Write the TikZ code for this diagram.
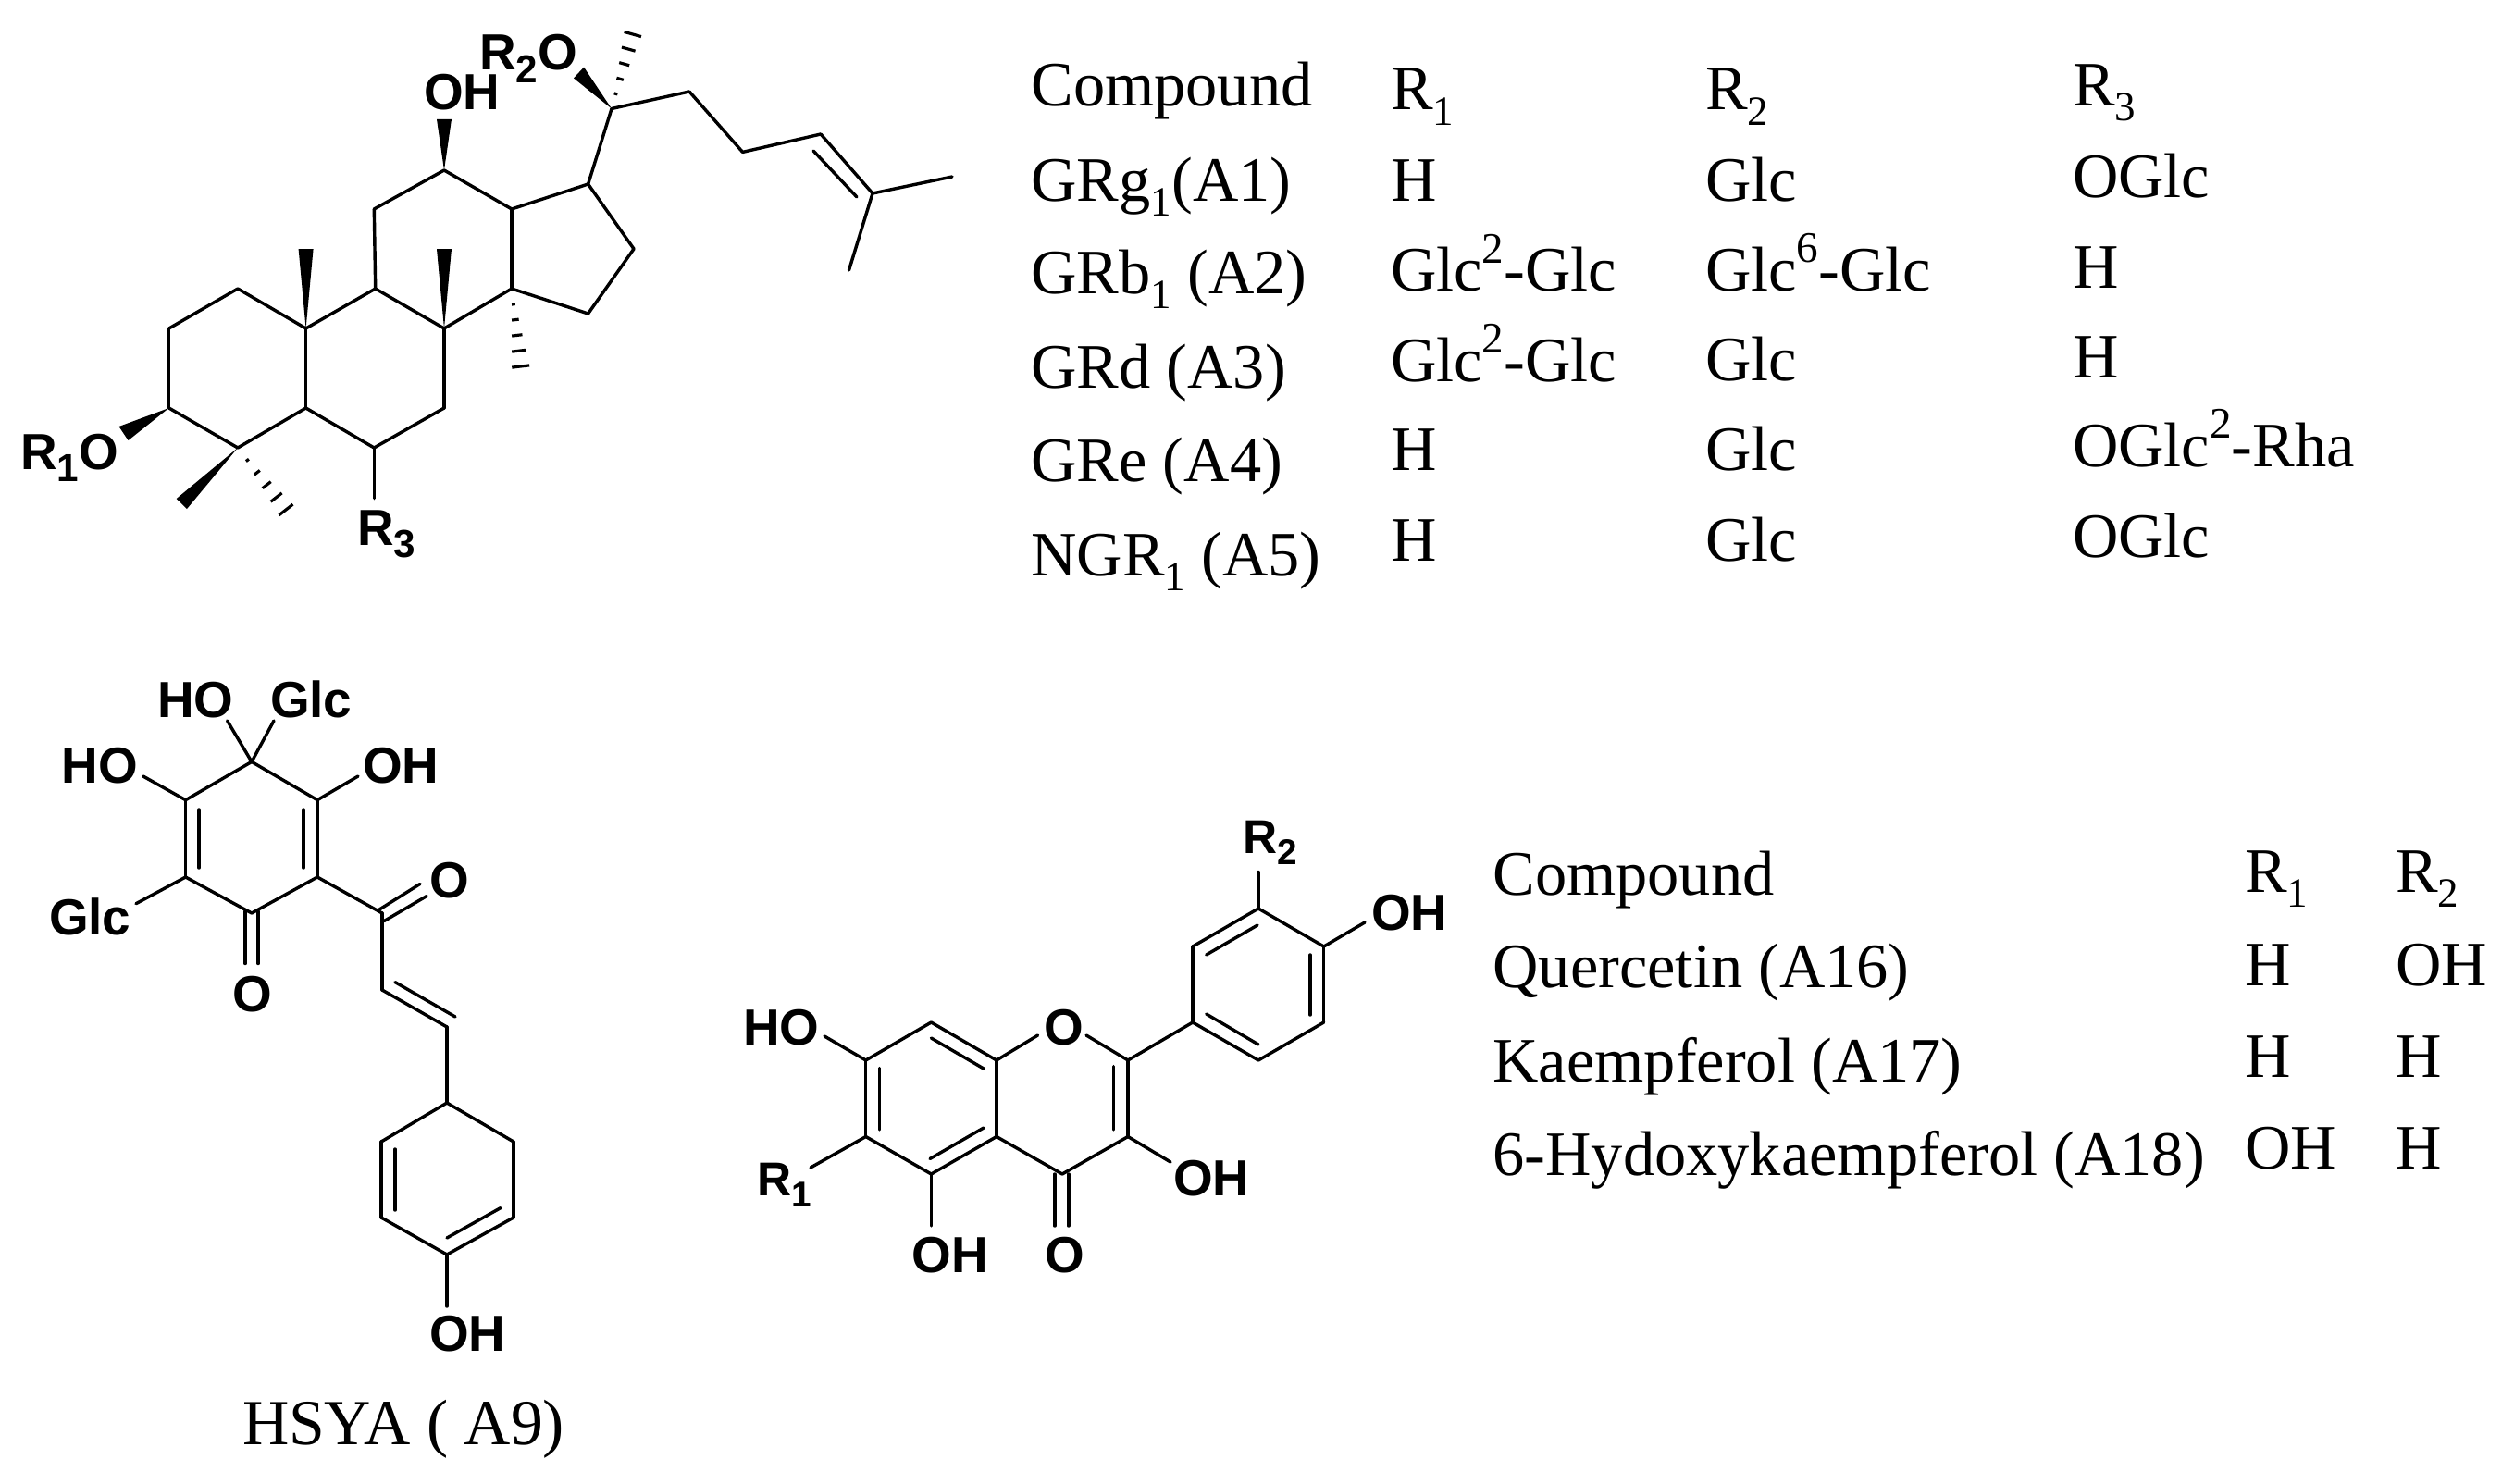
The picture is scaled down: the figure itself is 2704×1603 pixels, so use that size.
\documentclass[tikz,border=0pt]{standalone}
\usepackage{fontspec}
\setmainfont{Liberation Serif}
\setsansfont{Liberation Sans}
\usetikzlibrary{calc}
\tikzset{
  bond/.style={line width=0.97pt,line cap=round,line join=round,black},
  wedgebond/.style={fill=black,draw=none},
  hashtick/.style={line width=0.9pt,black},
  tabtext/.style={anchor=base west,inner sep=0pt,outer sep=0pt,font=\fontsize{19.45}{23}\selectfont},
  captiontext/.style={anchor=base west,inner sep=0pt,outer sep=0pt,font=\fontsize{19.8}{23}\selectfont},
  chemlabel/.style={anchor=base west,inner sep=0pt,outer sep=0pt,font=\fontsize{15.6}{19}\selectfont\sffamily\bfseries},
  chemR/.style={anchor=base west,inner sep=0pt,outer sep=0pt,font=\fontsize{14.6}{18}\selectfont\sffamily\bfseries},
}
% subscript / superscript for table text
\newcommand{\tsub}[1]{\raisebox{-4.6pt}{\fontsize{12.8}{14}\selectfont #1}}
\newcommand{\tsup}[1]{\raisebox{8.6pt}{\fontsize{13.4}{15}\selectfont #1}}
% subscript for structure labels
\newcommand{\csub}[1]{\raisebox{-3.5pt}{\fontsize{11}{13}\selectfont #1}}
\newcommand{\dsub}[1]{\raisebox{-3.7pt}{\fontsize{12}{14}\selectfont #1}}
% bonds
\newcommand{\bonds}[1]{\foreach \p/\q in {#1} \draw[bond] (\p) -- (\q);}
\newcommand{\atoms}[1]{\foreach \n/\x/\y in {#1} \coordinate (\n) at (\x,\y);}
% hashed bond: from, to, ticks, half width at far end in pt
\newcommand{\hashed}[4]{%
  \foreach \i in {1,...,#3} {%
    \pgfmathsetmacro\tt{\i/#3}%
    \pgfmathsetmacro\ww{#4*\tt}%
    \draw[hashtick] ($(#1)!\tt!(#2)!\ww pt!90:(#1)$) -- ($(#1)!\tt!(#2)!\ww pt!-90:(#1)$);
  }}
\begin{document}
\begin{tikzpicture}[x=0.01cm,y=-0.01cm]
\useasboundingbox (0,0) rectangle (2704,1603);
\fill[white] (0,0) rectangle (2704,1603);

%% ---------- ginsenoside skeleton ----------
\atoms{a/182.6/441,b/182.6/355,c/257/312,d/330.6/355,e/330.6/441,f/257/484,
 g/405.7/312,h/480/355,i/480/441,j/404.3/484,k/553/312,l/553/226,m/480/184,n/404.3/226,
 o/635.6/199,p/685/269,q/635.6/339,r/661/117.5,s/745/99,t/802.6/164.4,u/887/145,
 v/943/209,w/1029/191,x/917.5/292,ui/879/163,vi/926/213,rth/404.3/538.6}
\bonds{a/b,b/c,c/d,d/e,e/f,f/a,d/g,g/h,h/i,i/j,j/e,g/n,n/m,m/l,l/k,k/h,l/o,o/p,p/q,q/k,
 o/r,r/s,s/t,t/u,u/v,v/w,v/x,ui/vi,j/rth}
% wedges
\atoms{w1a/472/129,w1b/488/129,w2a/322.6/269,w2b/338.6/269,w3a/472/269,w3b/488/269,
 w4a/128.5/461,w4b/138.6/476,w5a/190.7/539,w5b/202/550,w6a/620/84.5,w6b/631/72.6}
\fill[wedgebond] (m) -- (w1a) -- (w1b) -- cycle;
\fill[wedgebond] (d) -- (w2a) -- (w2b) -- cycle;
\fill[wedgebond] (h) -- (w3a) -- (w3b) -- cycle;
\fill[wedgebond] (a) -- (w4a) -- (w4b) -- cycle;
\fill[wedgebond] (f) -- (w5a) -- (w5b) -- cycle;
\fill[wedgebond] (r) -- (w6a) -- (w6b) -- cycle;
% hashes
\atoms{h1/683.8/37,h2/562.7/396,h3/309/551}
\hashed{r}{h1}{5}{2.7}
\hashed{k}{h2}{5}{2.7}
\hashed{f}{h3}{5}{2.7}
% labels
\node[chemlabel] (oh1) at (458,119) {OH};
\node[chemlabel] (r2o) at (518,76) {R\dsub{2}O};
\node[chemlabel] (r1o) at (22,507) {R\dsub{1}O};
\node[chemlabel] (r3l) at (386,589) {R\dsub{3}};

%% ---------- top table ----------
\node[tabtext] (t11) at (1114.5,114.4) {Compound};
\node[tabtext] (t21) at (1114.5,217) {GRg\tsub{1}(A1)};
\node[tabtext] (t31) at (1114.5,317.5) {GRb\tsub{1} (A2)};
\node[tabtext] (t41) at (1114.5,419) {GRd (A3)};
\node[tabtext] (t51) at (1114.5,520) {GRe (A4)};
\node[tabtext] (t61) at (1114.5,622) {NGR\tsub{1} (A5)};
\node[tabtext] (t12) at (1503,119) {R\tsub{1}};
\node[tabtext] (t22) at (1503,217) {H};
\node[tabtext] (t32) at (1503,314.6) {Glc\tsup{2}-Glc};
\node[tabtext] (t42) at (1503,412) {Glc\tsup{2}-Glc};
\node[tabtext] (t52) at (1503,508) {H};
\node[tabtext] (t62) at (1503,606) {H};
\node[tabtext] (t13) at (1843,119) {R\tsub{2}};
\node[tabtext] (t23) at (1843,217) {Glc};
\node[tabtext] (t33) at (1843,314) {Glc\tsup{6}-Glc};
\node[tabtext] (t43) at (1843,411) {Glc};
\node[tabtext] (t53) at (1843,508) {Glc};
\node[tabtext] (t63) at (1843,606) {Glc};
\node[tabtext] (t14) at (2240,114.4) {R\tsub{3}};
\node[tabtext] (t24) at (2240,213) {OGlc};
\node[tabtext] (t34) at (2240,311) {H};
\node[tabtext] (t44) at (2240,408) {H};
\node[tabtext] (t54) at (2240,504) {OGlc\tsup{2}-Rha};
\node[tabtext] (t64) at (2240,602) {OGlc};

%% ---------- HSYA ----------
\atoms{ta/272/823.4,tb/343/864.7,tc/343/948,td/272/987,te/200.6/948,tf/200.6/864.7,
 tbi/328/875,tci/328/938,tfi/215/875,tei/215/938,
 tho/245.6/779,tgl/296/779,tlho/154.7/839,troh/387/839,tlgl/147/976.7,
 co1a/265/985,co1b/279/985,co1c/265/1041.5,co1d/279/1041.5,
 ka/413/987,kb/413/1070,kc/483/1110,kd/483/1192,
 cota/408.5/984,cotb/454/955.4,cotc/415/995.6,cotd/461/968.6,
 kbi/427/1061.6,kci/492/1099,
 pa/555/1234,pb/555/1316,pc/483/1356,pd/412/1316,pe/412/1234,
 pei/427/1242,pdi/427/1308,pci/483/1338,pbi/541/1305.6,poh/483/1412}
\bonds{ta/tb,tb/tc,tc/td,td/te,te/tf,tf/ta,tbi/tci,tfi/tei,ta/tho,ta/tgl,tf/tlho,tb/troh,te/tlgl,
 co1a/co1c,co1b/co1d,tc/ka,cota/cotb,cotc/cotd,ka/kb,kb/kc,kbi/kci,kc/kd,
 kd/pa,pa/pb,pb/pc,pc/pd,pd/pe,pe/kd,pei/pdi,pci/pbi,pc/poh}
\node[chemlabel] (ho1) at (170,775) {HO};
\node[chemlabel] (gl1) at (292,775) {Glc};
\node[chemlabel] (ho2) at (67,846) {HO};
\node[chemlabel] (oh2) at (392,846) {OH};
\node[chemlabel] (gl2) at (53,1010) {Glc};
\node[chemlabel] (ox1) at (464,970) {O};
\node[chemlabel] (ox2) at (251.5,1093) {O};
\node[chemlabel] (oh3) at (464,1460) {OH};
\node[captiontext] (hsya) at (262,1561) {HSYA ( A9)};

%% ---------- flavonol ----------
\atoms{a1/935.7/1146,a2/1006.4/1105,a3/1077/1146,a4/1077/1228.5,a5/1006.4/1269,a6/935.7/1228.5,
 oa/1121.6/1119,ob/1174/1119,a7/1219/1146,a8/1219/1228.5,a9/1148/1269,
 a2i/1006.4/1122,a3i/1063/1155,a1i/950.7/1154.5,a6i/950.7/1221,a4i/1063/1219,a5i/1005/1252.5,
 a7i/1203.6/1152.6,a8i/1203.6/1221,
 cfa/1139.8/1269,cfb/1154.8/1269,cfc/1139.8/1325,cfd/1154.8/1325,
 oh3e/1265/1256,oh5e/1006.4/1325,oh7e/891/1120,r1e/876/1262,
 b1/1289/1105,b2/1289/1023,b3/1360/982,b4/1430.7/1023,b5/1430.7/1105,b6/1360/1146,
 b2i/1303.7/1032,b3i/1359/1000,b4i/1416/1032,b5i/1416/1097,b1i/1303.7/1096,b6i/1360/1129,
 r2e/1360/942.5,ohbe/1475/997}
\bonds{a1/a2,a2/a3,a3/a4,a4/a5,a5/a6,a6/a1,a3/oa,ob/a7,a7/a8,a8/a9,a9/a4,
 a2i/a3i,a1i/a6i,a4i/a5i,a7i/a8i,cfa/cfc,cfb/cfd,a8/oh3e,a5/oh5e,a1/oh7e,a6/r1e,a7/b1,
 b1/b2,b2/b3,b3/b4,b4/b5,b5/b6,b6/b1,b2i/b3i,b4i/b5i,b1i/b6i,b3/r2e,b4/ohbe}
\node[chemR] (fr2) at (1343,922) {R\csub{2}};
\node[chemlabel] (foh1) at (1482,1005) {OH};
\node[chemlabel] (fho) at (803,1129) {HO};
\node[chemlabel] (fo) at (1128.6,1129) {O};
\node[chemR] (fr1) at (818,1292) {R\csub{1}};
\node[chemlabel] (foh2) at (1268,1292) {OH};
\node[chemlabel] (foh3) at (985.6,1375) {OH};
\node[chemlabel] (fo2) at (1129,1375) {O};

%% ---------- lower table ----------
\node[tabtext] (u11) at (1613.5,967) {Compound};
\node[tabtext] (u21) at (1613.5,1067.6) {Quercetin (A16)};
\node[tabtext] (u31) at (1613.5,1169) {Kaempferol (A17)};
\node[tabtext] (u41) at (1613.5,1270) {6-Hydoxykaempferol (A18)};
\node[tabtext] (u12) at (2426,964) {R\tsub{1}};
\node[tabtext] (u22) at (2426,1065) {H};
\node[tabtext] (u32) at (2426,1164) {H};
\node[tabtext] (u42) at (2426,1263.5) {OH};
\node[tabtext] (u13) at (2589,964) {R\tsub{2}};
\node[tabtext] (u23) at (2589,1065) {OH};
\node[tabtext] (u33) at (2589,1164) {H};
\node[tabtext] (u43) at (2589,1263.5) {H};
\end{tikzpicture}
\end{document}
